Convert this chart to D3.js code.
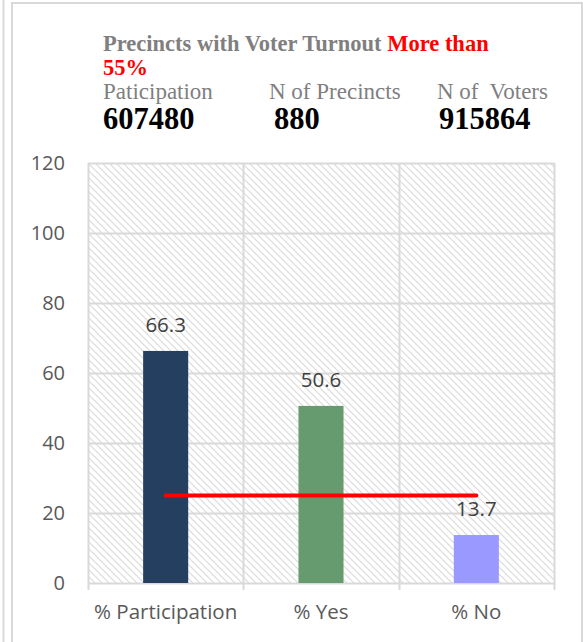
<!DOCTYPE html>
<html>
<head>
<meta charset="utf-8">
<script src="https://cdn.jsdelivr.net/npm/d3@7"></script>
<style>
  html, body { margin: 0; padding: 0; background: #fff; }
  svg { display: block; }
</style>
</head>
<body>
<div id="chart"></div>
<script>
// Turnout summary for precincts above 55%
const categories = ["% Participation", "% Yes", "% No"];
const values = [66.3, 50.6, 13.7];
const barColors = ["#243f60", "#659b6e", "#9999ff"];
const referenceLevel = 25;
const yTicks = [0, 20, 40, 60, 80, 100, 120];

const statLabels = ["Paticipation", "N of Precincts", "N of  Voters"];
const statValues = ["607480", "880", "915864"];

const W = 583, H = 642;
const margin = { top: 163, right: 29, bottom: 59, left: 88 };
const plotW = W - margin.left - margin.right;
const plotH = H - margin.top - margin.bottom;

const svg = d3.select("#chart").append("svg")
  .attr("width", W).attr("height", H);

// diagonal hatch for the plot background
const defs = svg.append("defs");
const pat = defs.append("pattern")
  .attr("id", "hatch")
  .attr("patternUnits", "userSpaceOnUse")
  .attr("width", 7).attr("height", 7);
pat.append("path")
  .attr("d", "M0,0 L7,7 M-1,6 L1,8 M6,-1 L8,1")
  .attr("stroke", "#dadada")
  .attr("stroke-width", 1.2);

// outer frames
svg.append("line").attr("x1", 3.5).attr("x2", 3.5).attr("y1", 0).attr("y2", H)
  .attr("stroke", "#d9d9d9").attr("stroke-width", 2);
svg.append("path")
  .attr("d", `M12,${H} L12,3 L${W - 1},3 L${W - 1},${H}`)
  .attr("fill", "none").attr("stroke", "#d9d9d9").attr("stroke-width", 2);

// header text
const serif = "'Liberation Serif', 'DejaVu Serif', serif";
const sans = "'Open Sans', 'Noto Sans', sans-serif";
const title = svg.append("text")
  .attr("x", 103).attr("y", 51)
  .attr("font-family", serif).attr("font-weight", "bold")
  .attr("font-size", 22.5);
title.append("tspan").attr("fill", "#7f7f7f").text("Precincts with Voter Turnout ");
title.append("tspan").attr("fill", "#ff0000").text("More than");
svg.append("text")
  .attr("x", 103).attr("y", 75)
  .attr("font-family", serif).attr("font-weight", "bold")
  .attr("font-size", 22.5).attr("fill", "#ff0000")
  .text("55%");

const statX = [103, 269, 437];
const valX = [103, 274, 439];
svg.selectAll("text.statLabel").data(statLabels).join("text")
  .attr("class", "statLabel")
  .attr("x", (d, i) => statX[i]).attr("y", 99)
  .attr("font-family", serif).attr("font-size", 23)
  .attr("fill", "#7f7f7f")
  .style("white-space", "pre")
  .text(d => d);
svg.selectAll("text.statValue").data(statValues).join("text")
  .attr("class", "statValue")
  .attr("x", (d, i) => valX[i]).attr("y", 129)
  .attr("font-family", serif).attr("font-weight", "bold")
  .attr("font-size", 30.5).attr("fill", "#000")
  .text(d => d);

// scales
const x = d3.scaleBand().domain(categories).range([0, plotW]).paddingInner(0).paddingOuter(0);
const y = d3.scaleLinear().domain([0, 120]).range([plotH, 0]);

const g = svg.append("g").attr("transform", `translate(${margin.left},${margin.top})`);

g.append("rect").attr("x", 0).attr("y", 0).attr("width", plotW).attr("height", plotH)
  .attr("fill", "url(#hatch)");

// horizontal gridlines
g.selectAll("line.hgrid").data(yTicks).join("line")
  .attr("class", "hgrid")
  .attr("x1", 0).attr("x2", plotW)
  .attr("y1", d => Math.round(y(d)) + 0.5).attr("y2", d => Math.round(y(d)) + 0.5)
  .attr("stroke", "#d9d9d9").attr("stroke-width", 2);

// vertical category separators, extended below as tick marks
const bounds = [0, ...categories.map(c => x(c) + x.bandwidth())];
g.selectAll("line.vgrid").data(bounds).join("line")
  .attr("class", "vgrid")
  .attr("x1", d => Math.round(d) + 0.5).attr("x2", d => Math.round(d) + 0.5)
  .attr("y1", 0).attr("y2", plotH + 7)
  .attr("stroke", "#d9d9d9").attr("stroke-width", 2);

// y axis labels
const yAxis = d3.axisLeft(y).tickValues(yTicks).tickSize(0).tickPadding(23);
const yg = g.append("g").call(yAxis);
yg.select(".domain").remove();
yg.selectAll("text")
  .attr("font-family", sans)
  .attr("font-size", 20).attr("fill", "#595959");

// x axis labels
const xAxis = d3.axisBottom(x).tickSize(0).tickPadding(21);
const xg = g.append("g").attr("transform", `translate(0,${plotH})`).call(xAxis);
xg.select(".domain").remove();
xg.selectAll("text")
  .attr("font-family", sans)
  .attr("font-size", 20.5).attr("fill", "#595959");

// bars
const barW = x.bandwidth() * 0.29;
g.selectAll("rect.bar").data(values).join("rect")
  .attr("class", "bar")
  .attr("x", (d, i) => x(categories[i]) + x.bandwidth() / 2 - barW / 2)
  .attr("y", d => y(d))
  .attr("width", barW)
  .attr("height", d => y(0) - y(d))
  .attr("fill", (d, i) => barColors[i]);

// value labels
g.selectAll("text.val").data(values).join("text")
  .attr("class", "val")
  .attr("x", (d, i) => x(categories[i]) + x.bandwidth() / 2)
  .attr("y", d => y(d) - 19)
  .attr("text-anchor", "middle")
  .attr("font-family", sans)
  .attr("font-size", 20.5).attr("fill", "#404040")
  .text(d => d.toFixed(1));

// reference line across bar centres
const cx0 = x(categories[0]) + x.bandwidth() / 2;
const cx1 = x(categories[categories.length - 1]) + x.bandwidth() / 2;
g.append("line")
  .attr("x1", cx0).attr("x2", cx1)
  .attr("y1", y(referenceLevel)).attr("y2", y(referenceLevel))
  .attr("stroke", "#ff0000").attr("stroke-width", 4)
  .attr("stroke-linecap", "round");
</script>
</body>
</html>
